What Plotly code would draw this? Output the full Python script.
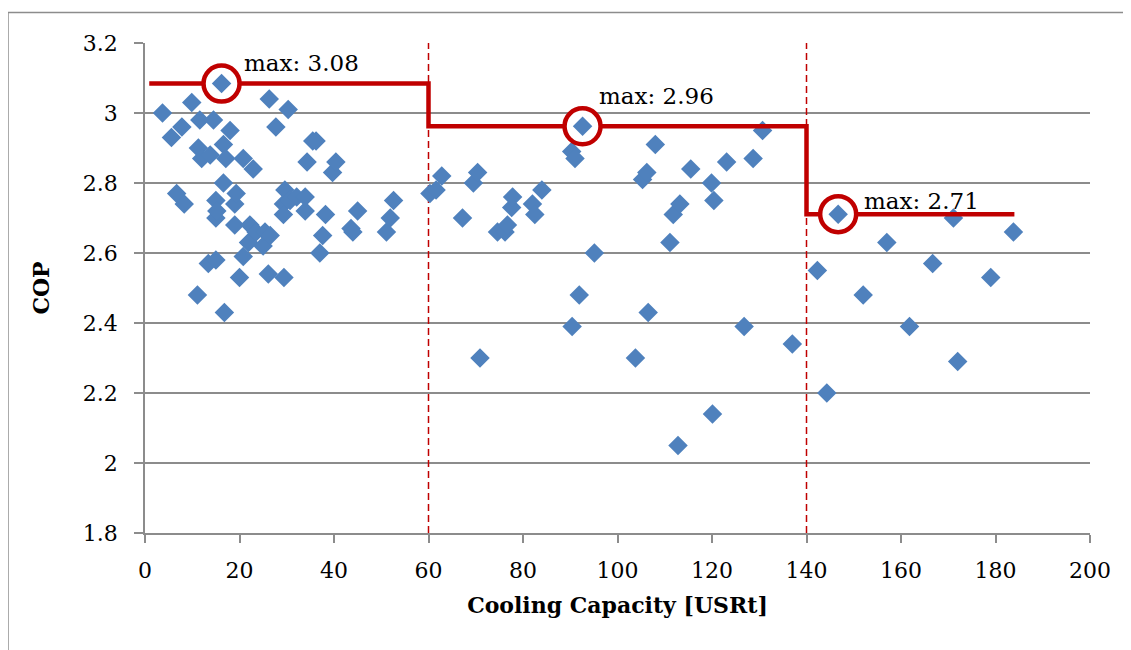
import plotly.graph_objects as go

# ---- data ----
capacity = [3.7, 5.6, 6.7, 7.8, 8.3, 9.9, 11.1, 11.3, 11.6, 12.0, 13.4, 13.8, 14.5, 15.0, 15.0,
            15.2, 15.0, 16.2, 16.6, 16.6, 16.8, 17.1, 18.0, 19.0, 19.3, 19.0, 20.0, 20.8, 20.8,
            21.9, 22.2, 22.9, 23.5, 25.0, 25.4, 26.1, 26.3, 26.5, 27.7, 29.3, 29.3, 29.6, 29.4,
            30.3, 30.7, 32.1, 33.9, 33.9, 34.3, 35.5, 36.2, 37.0, 37.6, 38.2, 39.7, 40.4, 43.6,
            44.0, 45.0, 51.1, 51.9, 52.6,
            60.3, 61.6, 62.8, 67.2, 69.5, 70.4, 70.9, 74.6, 76.2, 76.7, 77.6, 77.8, 82.0, 82.5,
            84.0, 90.3, 91.0, 90.4, 91.9, 92.6, 95.1, 103.8, 105.3, 106.2, 106.5, 108.0, 111.1,
            111.8, 112.8, 113.2, 115.5, 119.9, 120.1, 120.4, 123.1, 126.8, 128.7, 130.7, 137.0,
            142.3, 144.3, 146.7, 152.0, 157.0, 161.8, 166.7, 171.1, 172.0, 179.0, 183.8]
cop = [3.00, 2.93, 2.77, 2.96, 2.74, 3.03, 2.48, 2.90, 2.98, 2.87, 2.57, 2.88, 2.98, 2.75, 2.70,
       2.72, 2.58, 3.084, 2.91, 2.80, 2.43, 2.87, 2.95, 2.74, 2.77, 2.68, 2.53, 2.87, 2.59,
       2.63, 2.68, 2.84, 2.66, 2.62, 2.66, 2.54, 3.04, 2.65, 2.96, 2.74, 2.71, 2.78, 2.53,
       3.01, 2.75, 2.76, 2.72, 2.76, 2.86, 2.92, 2.92, 2.60, 2.65, 2.71, 2.83, 2.86, 2.67,
       2.66, 2.72, 2.66, 2.70, 2.75,
       2.77, 2.78, 2.82, 2.70, 2.80, 2.83, 2.30, 2.66, 2.66, 2.68, 2.73, 2.76, 2.74, 2.71,
       2.78, 2.89, 2.87, 2.39, 2.48, 2.962, 2.60, 2.30, 2.81, 2.83, 2.43, 2.91, 2.63,
       2.71, 2.05, 2.74, 2.84, 2.80, 2.14, 2.75, 2.86, 2.39, 2.87, 2.95, 2.34,
       2.55, 2.20, 2.711, 2.48, 2.63, 2.39, 2.57, 2.70, 2.29, 2.53, 2.66]

max_x = [16.2, 92.6, 146.7]
max_y = [3.084, 2.962, 2.711]
max_labels = ["max: 3.08", "max: 2.96", "max: 2.71"]
label_x = [20.5, 95.7, 151.7]
label_y = [3.143, 3.048, 2.749]

step_x = [0.9, 60, 60, 140, 140, 184]
step_y = [3.084, 3.084, 2.962, 2.962, 2.711, 2.711]
boundaries = [60, 140]

x_ticks = [0, 20, 40, 60, 80, 100, 120, 140, 160, 180, 200]
y_ticks = [1.8, 2.0, 2.2, 2.4, 2.6, 2.8, 3.0, 3.2]
y_tick_text = ["1.8", "2", "2.2", "2.4", "2.6", "2.8", "3", "3.2"]

FONT = "DejaVu Serif"
RED = "#C00000"
BLUE = "#4F81BD"
GRAY = "#8C8C8C"

fig = go.Figure()

for b in boundaries:
    fig.add_trace(go.Scatter(x=[b, b], y=[1.8, 3.2], mode="lines",
                             line=dict(color=RED, width=1.5, dash="7px,4px"),
                             hoverinfo="skip", showlegend=False))

fig.add_trace(go.Scatter(x=capacity, y=cop, mode="markers",
                         marker=dict(symbol="diamond", size=15, color=BLUE, line=dict(width=0)),
                         showlegend=False))

fig.add_trace(go.Scatter(x=step_x, y=step_y, mode="lines",
                         line=dict(color=RED, width=4.5), showlegend=False))

fig.add_trace(go.Scatter(x=max_x, y=max_y, mode="markers",
                         marker=dict(symbol="circle", size=36, color="white",
                                     line=dict(color=RED, width=4.5)),
                         showlegend=False))
fig.add_trace(go.Scatter(x=max_x, y=max_y, mode="markers",
                         marker=dict(symbol="diamond", size=15, color=BLUE, line=dict(width=0)),
                         showlegend=False))

for lx, ly, t in zip(label_x, label_y, max_labels):
    fig.add_annotation(x=lx, y=ly, text=t, showarrow=False, xanchor="left", yanchor="middle",
                       font=dict(family=FONT, size=23, color="black"))

fig.add_shape(type="rect", xref="paper", yref="paper", x0=-0.145, x1=1.2, y0=-0.3, y1=1.062,
              line=dict(color=GRAY, width=1.5), fillcolor="rgba(0,0,0,0)", layer="below")

fig.update_layout(
    width=1131, height=650,
    margin=dict(l=137, r=49, t=35, b=125),
    paper_bgcolor="white", plot_bgcolor="white",
    font=dict(family=FONT, size=22, color="black"),
    xaxis=dict(range=[0, 200], tickvals=x_ticks, ticks="outside", ticklen=8, tickcolor=GRAY,
               tickwidth=1.5, showline=True, linecolor=GRAY, linewidth=1.5, showgrid=False,
               zeroline=False, ticklabelstandoff=9,
               title=dict(text="<b>Cooling Capacity [USRt]</b>", font=dict(family=FONT, size=22),
                          standoff=15)),
    yaxis=dict(range=[1.8, 3.2], tickvals=y_ticks, ticktext=y_tick_text, ticks="outside",
               ticklen=9, tickcolor=GRAY, tickwidth=1.5, showline=True, linecolor=GRAY,
               linewidth=1.5, showgrid=True, gridcolor=GRAY, gridwidth=1.5, zeroline=False,
               ticklabelstandoff=12,
               title=dict(text="<b>COP</b>", font=dict(family=FONT, size=22), standoff=27)),
)

fig.write_html("out.html")
